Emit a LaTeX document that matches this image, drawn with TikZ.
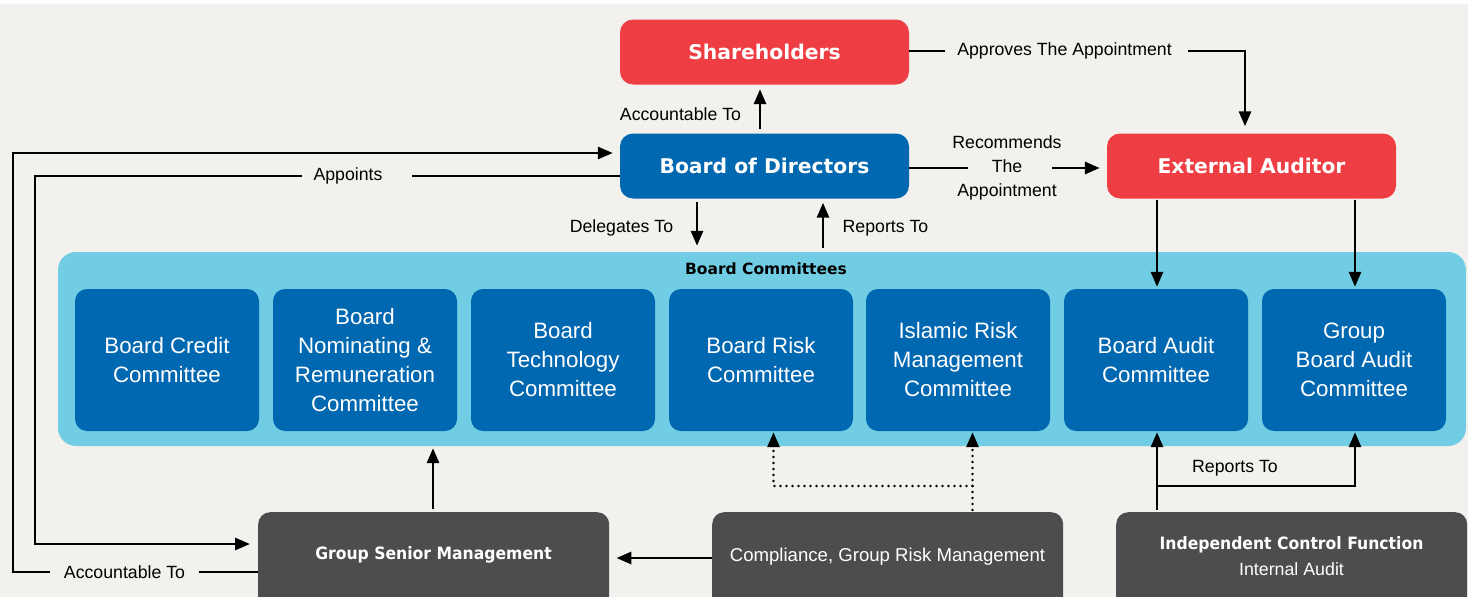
\documentclass[tikz,border=0pt]{standalone}
\usepackage{fontspec}
\setmainfont{Liberation Sans}
\newfontfamily\headfont{DejaVu Sans}
\newfontfamily\condhead{DejaVu Sans}[FakeStretch=0.92]
\usetikzlibrary{arrows.meta}
\definecolor{bgc}{HTML}{F2F1ED}
\definecolor{shred}{HTML}{EE3E44}
\definecolor{bodblue}{HTML}{0067B1}
\definecolor{lightblue}{HTML}{70CDE4}
\definecolor{gsmgray}{HTML}{4D4D4F}
\tikzset{
  bigbox/.style={rounded corners=13pt, minimum width=289pt, minimum height=65pt, inner sep=0pt,
    font=\headfont\bfseries\fontsize{20.3}{24}\selectfont, text=white},
  redbox/.style={bigbox, fill=shred},
  bluebox/.style={bigbox, fill=bodblue},
  combox/.style={rounded corners=12pt, fill=bodblue, minimum width=184pt, minimum height=142pt,
    inner sep=0pt, text=white, align=center, font=\fontsize{22.3}{29}\selectfont},
  graybox/.style={rounded corners=12pt, fill=gsmgray, minimum width=351pt, minimum height=110pt,
    inner sep=0pt, anchor=north west},
  lbl/.style={font=\fontsize{17.7}{24}\selectfont, inner sep=0pt, align=center},
  boldlbl/.style={font=\condhead\bfseries\fontsize{17}{22}\selectfont, inner sep=0pt, text=white},
  conn/.style={line width=2.9pt},
  arr/.style={conn, -{Triangle[length=15pt,width=12pt]}},
  dotarr/.style={line width=2.9pt, line cap=round, dash pattern=on 0pt off 6pt,
    -{Triangle[length=15pt,width=12pt]}}
}
\begin{document}
\begin{tikzpicture}[x=1pt,y=-1pt]
\useasboundingbox (0,0) rectangle (1468,597);
\clip (0,0) rectangle (1468,597);
\fill[white] (0,0) rectangle (1468,597);
\fill[bgc] (0,4) rectangle (1468,597);

% main boxes
\node[redbox] (sh) at (764.5,52) {Shareholders};
\node[bluebox] (bod) at (764.5,166) {Board of Directors};
\node[redbox] (ea) at (1251.5,166) {External Auditor};

% committees container
\node[rounded corners=18pt, fill=lightblue, minimum width=1408pt, minimum height=194pt, inner sep=0pt] (comm) at (762,349) {};
\node[font=\headfont\bfseries\fontsize{15.5}{18}\selectfont, inner sep=0pt] (commt) at (766,269) {Board Committees};

\node[combox] (bcc) at (167,360) {Board Credit\\Committee};
\node[combox] (bnrc) at (365,360) {Board\\Nominating \&\\Remuneration\\Committee};
\node[combox] (btc) at (563,360) {Board\\Technology\\Committee};
\node[combox] (brc) at (761,360) {Board Risk\\Committee};
\node[combox] (irm) at (958,360) {Islamic Risk\\Management\\Committee};
\node[combox] (bac) at (1156,360) {Board Audit\\Committee};
\node[combox] (gbac) at (1354,360) {Group\\Board Audit\\Committee};

% bottom boxes
\node[graybox] (gsm) at (258,512) {};
\node[boldlbl] (gsmt) at (433.5,555) {Group Senior Management};
\node[graybox] (comp) at (712,512) {};
\node[lbl, text=white, font=\fontsize{18.6}{22}\selectfont] (compt) at (887.5,557) {Compliance, Group Risk Management};
\node[graybox] (icf) at (1116,512) {};
\node[boldlbl] (icft) at (1291.5,545) {Independent Control Function};
\node[lbl, text=white, font=\fontsize{17.8}{22}\selectfont] (icft2) at (1291.5,569) {Internal Audit};

% labels
\node[lbl] (appr) at (1064.5,51) {Approves The Appointment};
\node[lbl] (acc1) at (680.5,114) {Accountable To};
\node[lbl] (rec) at (1007,168) {Recommends\\The\\Appointment};
\node[lbl] (del) at (621.5,228) {Delegates To};
\node[lbl] (rep1) at (885.5,228) {Reports To};
\node[lbl] (appt) at (348,176) {Appoints};
\node[lbl] (acc2) at (124.5,572) {Accountable To};
\node[lbl] (rep2) at (1235,468) {Reports To};

% helper coordinates
\coordinate (apprL) at (945,51);
\coordinate (apprR) at (1188,51);
\coordinate (xappr) at (1245,0);
\coordinate (xacc) at (760,0);
\coordinate (recL) at (968,168);
\coordinate (recR) at (1052,168);
\coordinate (xdel) at (697,0);
\coordinate (xrep) at (823,0);
\coordinate (appL) at (302,176);
\coordinate (appR) at (412,176);
\coordinate (xin) at (35,0);
\coordinate (ygsm1) at (0,544);
\coordinate (accL) at (50,572);
\coordinate (accR) at (199,572);
\coordinate (xout) at (13,0);
\coordinate (ybod1) at (0,153);
\coordinate (xgsm) at (433,0);
\coordinate (ycomp) at (0,558);
\coordinate (xirm) at (972.5,0);
\coordinate (xbrc) at (773.5,0);
\coordinate (ydot) at (0,486);
\coordinate (xbac) at (1157,0);
\coordinate (xgbac) at (1355,0);

% connectors
\draw[conn] (sh.east |- apprL) -- (apprL);
\draw[arr, shorten >=7pt] (apprR) -| (ea.north -| xappr);
\draw[arr, shorten <=4pt, shorten >=4.5pt] (bod.north -| xacc) -- (sh.south -| xacc);
\draw[conn] (bod.east |- recL) -- (recL);
\draw[arr, shorten >=7pt] (recR) -- (ea.west |- recR);
\draw[arr, shorten <=3pt, shorten >=6pt] (bod.south -| xdel) -- (comm.north -| xdel);
\draw[arr, shorten <=4pt, shorten >=4pt] (comm.north -| xrep) -- (bod.south -| xrep);
\draw[conn] (bod.west |- appR) -- (appR);
\draw[arr, shorten >=8pt] (appL) -- (xin |- appL) -- (xin |- ygsm1) -- (gsm.west |- ygsm1);
\draw[conn] (gsm.west |- accR) -- (accR);
\draw[arr, shorten >=7pt] (accL) -- (xout |- accL) -- (xout |- ybod1) -- (bod.west |- ybod1);
\draw[arr, shorten <=3pt, shorten >=2pt] (gsm.north -| xgsm) -- (comm.south -| xgsm);
\draw[arr, shorten >=7pt] (comp.west |- ycomp) -- (gsm.east |- ycomp);
\draw[dotarr, shorten <=2pt, shorten >=1pt] (comp.north -| xirm) -- (irm.south -| xirm);
\draw[dotarr, shorten >=1pt] (xirm |- ydot) -- (xbrc |- ydot) -- (brc.south -| xbrc);
\draw[arr, shorten <=1pt, shorten >=2pt] (ea.south -| xbac) -- (bac.north -| xbac);
\draw[arr, shorten <=1pt, shorten >=2pt] (ea.south -| xgbac) -- (gbac.north -| xgbac);
\draw[arr, shorten <=2pt, shorten >=1pt] (icf.north -| xbac) -- (bac.south -| xbac);
\draw[arr, shorten >=1pt] (xbac |- ydot) -- (xgbac |- ydot) -- (gbac.south -| xgbac);
\end{tikzpicture}
\end{document}
